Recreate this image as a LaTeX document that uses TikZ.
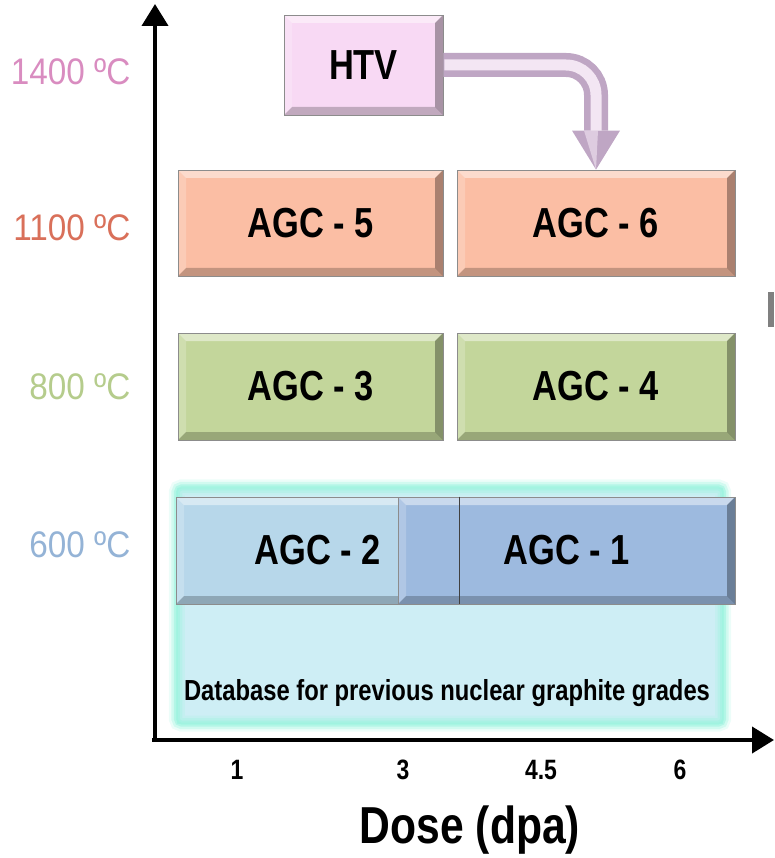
\documentclass[tikz,border=0pt]{standalone}
\usepackage{fontspec}
\setmainfont[FakeStretch=0.82]{Liberation Sans}
\newfontfamily\tempfont[FakeStretch=0.9]{Liberation Sans}
\usetikzlibrary{arrows.meta}

\definecolor{htvpink}{HTML}{F8D9F4}
\definecolor{tubeedge}{HTML}{BFA6C4}
\definecolor{tubecore}{HTML}{F3E6F3}
\definecolor{salmon}{HTML}{FBBEA4}
\definecolor{leaf}{HTML}{C3D69B}
\definecolor{skylight}{HTML}{B7D7EA}
\definecolor{skydark}{HTML}{9DBADF}
\definecolor{dbcyan}{HTML}{CEEEF5}
\definecolor{dbglow}{HTML}{9FF4E0}
\definecolor{t1400}{HTML}{D98CC0}
\definecolor{t1100}{HTML}{D9705A}
\definecolor{t800}{HTML}{B5CC8C}
\definecolor{t600}{HTML}{94B3D6}

\tikzset{
  bevel/.style={path picture={
    \path (path picture bounding box.north west) coordinate (bnw)
          (path picture bounding box.north east) coordinate (bne)
          (path picture bounding box.south west) coordinate (bsw)
          (path picture bounding box.south east) coordinate (bse);
    \fill[white,opacity=.45] (bnw) -- (bne) -- ([shift={(-8pt,-8pt)}]bne) -- ([shift={(8pt,-8pt)}]bnw) -- cycle;
    \fill[white,opacity=.2] (bnw) -- ([shift={(8pt,-8pt)}]bnw) -- ([shift={(8pt,8pt)}]bsw) -- (bsw) -- cycle;
    \fill[black,opacity=.22] (bsw) -- (bse) -- ([shift={(-8pt,8pt)}]bse) -- ([shift={(8pt,8pt)}]bsw) -- cycle;
    \fill[black,opacity=.32] (bne) -- (bse) -- ([shift={(-8pt,8pt)}]bse) -- ([shift={(-8pt,-8pt)}]bne) -- cycle;
  }},
  agcbox/.style={bevel, draw=black!45, line width=0.8pt, inner sep=0pt,
    font=\bfseries\fontsize{42}{44}\selectfont},
  templabel/.style={anchor=east, font=\tempfont\fontsize{37}{39}\selectfont},
  ticklabel/.style={font=\bfseries\fontsize{28}{30}\selectfont},
  axis/.style={line width=4pt, -{Triangle[length=22pt,width=26pt]}},
  glow/.style={draw=dbglow, rounded corners=5pt},
}

\begin{document}
\begin{tikzpicture}[x=1pt,y=-1pt]
\useasboundingbox (0,0) rectangle (774,858);

% database of older grades
\node[fill=dbcyan, minimum width=546pt, minimum height=236pt] (db) at (450,605.5) {};
\draw[glow, line width=16pt, opacity=.2] (db.north west) rectangle (db.south east);
\draw[glow, line width=11pt, opacity=.35] (db.north west) rectangle (db.south east);
\draw[glow, line width=6pt, opacity=.6] (db.north west) rectangle (db.south east);
\draw[glow, line width=2pt, opacity=.8] (db.north west) rectangle (db.south east);
\node[font=\bfseries\fontsize{29}{31}\selectfont] (dblabel) at (447,693) {Database for previous nuclear graphite grades};

% boxes
\node[agcbox, fill=htvpink, minimum width=159pt, minimum height=100pt] (htv) at (363.5,65) {HTV};
\node[agcbox, fill=salmon, minimum width=265pt, minimum height=106pt] (agc5) at (310.5,223) {AGC - 5};
\node[agcbox, fill=salmon, minimum width=278pt, minimum height=106pt] (agc6) at (596,223) {AGC - 6};
\node[agcbox, fill=leaf, minimum width=265pt, minimum height=107pt] (agc3) at (310.5,386.5) {AGC - 3};
\node[agcbox, fill=leaf, minimum width=278pt, minimum height=107pt] (agc4) at (596,386.5) {AGC - 4};
\node[agcbox, fill=skylight, minimum width=283pt, minimum height=107pt] (agc2) at (317.5,550.5) {AGC - 2};
\node[agcbox, fill=skydark, minimum width=337pt, minimum height=107pt] (agc1) at (566.5,550.5) {AGC - 1};
\draw[black!75, line width=1.6pt] (agc2.north east) -- (agc2.south east);

% HTV feeds AGC-6
\draw[tubeedge, line width=24pt, rounded corners=30pt,
  -{Triangle[length=39pt,width=48pt,line width=0pt]}] (htv.east) -| (agc6.north);
\draw[tubecore, line width=11pt, rounded corners=30pt, shorten >=39pt] ([xshift=1pt]htv.east) -| (agc6.north);
\fill[tubecore, opacity=.6] ([shift={(-12pt,39pt)}]agc6.north) -- ([shift={(2pt,39pt)}]agc6.north) -- (agc6.north) -- cycle;

% axes
\coordinate (origin) at (155,740);
\draw[axis] (152,740) -- (774,740);
\draw[axis] (155,742) -- (155,4);
\fill[gray] (768,292) rectangle (774,327);

% temperatures
\node[templabel, text=t1400] (temp1400) at (134,72) {1400 ºC};
\node[templabel, text=t1100] (temp1100) at (134,228) {1100 ºC};
\node[templabel, text=t800] (temp800) at (134,387) {800 ºC};
\node[templabel, text=t600] (temp600) at (134,545) {600 ºC};

% dose ticks
\node[ticklabel] (dose1) at (237,770) {1};
\node[ticklabel] (dose3) at (403,770) {3};
\node[ticklabel] (dose45) at (541,770) {4.5};
\node[ticklabel] (dose6) at (680,770) {6};
\node[font=\bfseries\fontsize{52}{54}\selectfont] (doselabel) at (470,830) {Dose (dpa)};
\end{tikzpicture}
\end{document}
